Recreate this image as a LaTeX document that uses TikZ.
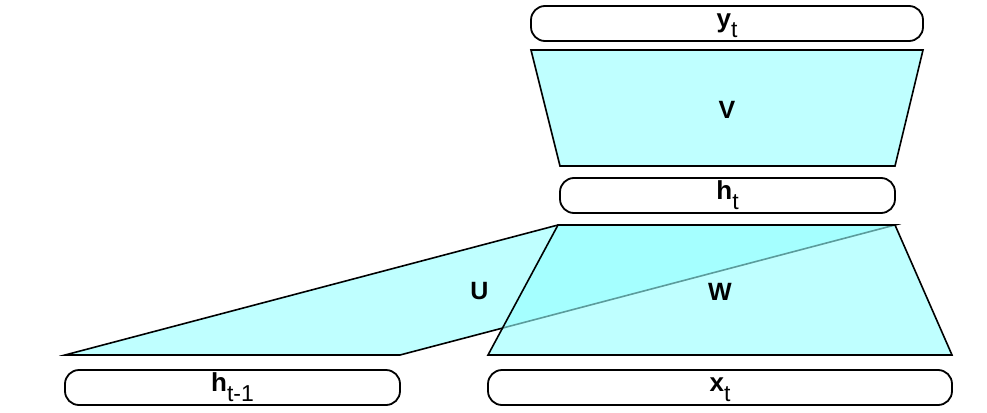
\documentclass[tikz,border=0pt]{standalone}
\usepackage{fontspec}
\setmainfont{Liberation Sans}
\definecolor{layerfill}{RGB}{191,255,255}
\definecolor{overfill}{RGB}{150,255,255}
\tikzset{
  unitbox/.style={draw=black, line width=1.8pt, rounded corners=14pt, minimum height=35pt, inner sep=0pt, fill=white},
  wlabel/.style={font=\fontsize{25}{25}\selectfont\bfseries, inner sep=0pt},
  layer/.style={draw=black, line width=1.6pt, line join=miter, fill=layerfill},
  overlayer/.style={draw=black, line width=1.6pt, line join=miter, fill=overfill, fill opacity=0.61}
}
\newcommand{\lbl}[2]{\rule[-10pt]{0pt}{29pt}{\fontsize{26}{26}\selectfont\bfseries #1}\raisebox{-10pt}{\fontsize{23}{23}\selectfont #2}}
\begin{document}
\begin{tikzpicture}[x=1pt,y=-1pt]
\path[use as bounding box] (0,0) rectangle (987,412);
% boxes
\node[unitbox, minimum width=392pt] (yt) at (727,23.5) {\lbl{y}{t}};
\node[unitbox, minimum width=335pt] (ht) at (727.5,195.5) {\lbl{h}{t}};
\node[unitbox, minimum width=335pt] (htm) at (232.5,387.5) {\lbl{h}{t-1}};
\node[unitbox, minimum width=464pt] (xt) at (720,387.5) {\lbl{x}{t}};
% corner coordinates
\coordinate (v1) at (531,50);
\coordinate (v2) at (923,50);
\coordinate (v3) at (895,166);
\coordinate (v4) at (560,166);
\coordinate (u1) at (65,355);
\coordinate (u2) at (400,355);
\coordinate (t2) at (895,225);
\coordinate (t1) at (558,225);
\coordinate (w1) at (488,355);
\coordinate (w2) at (952,355);
% shapes
\draw[layer] (v1) -- (v2) -- (v3) -- (v4) -- cycle;
\draw[layer] (u1) -- (u2) -- (t2) -- (t1) -- cycle;
\draw[overlayer] (w1) -- (w2) -- (t2) -- (t1) -- cycle;
% labels
\node[wlabel] (V) at (727,110) {V};
\node[wlabel] (U) at (479.5,291.5) {U};
\node[wlabel] (W) at (720,291.5) {W};
\end{tikzpicture}
\end{document}
